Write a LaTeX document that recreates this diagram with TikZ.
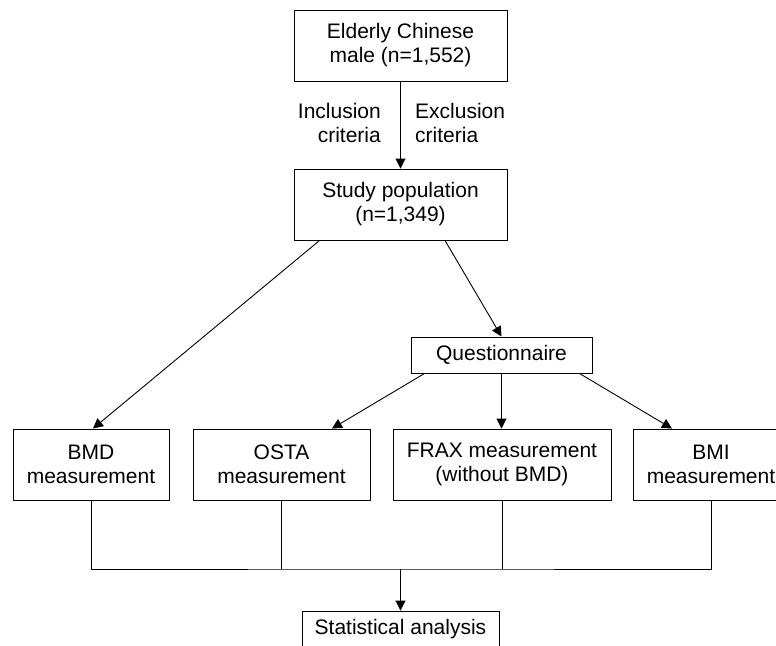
\documentclass[tikz,border=0pt]{standalone}
\usepackage{fontspec}
\setmainfont{Liberation Sans}
\usetikzlibrary{arrows.meta,calc}
\begin{document}
\begin{tikzpicture}[x=1pt,y=-1pt,
  font=\fontsize{21}{24}\selectfont,
  box/.style={draw,line width=0.9pt,inner sep=0pt,align=center},
  conn/.style={line width=0.9pt},
  arr/.style={conn,-{Triangle[length=10pt,width=10pt]}},
  lbl/.style={inner sep=0pt}]
\useasboundingbox (0,0) rectangle (776,645);
\node[box,minimum width=213,minimum height=71] (top) at (400.5,45.5) {Elderly Chinese\\male (n=1,552)};
\node[box,minimum width=213,minimum height=71] (study) at (400.5,204.5) {Study population\\(n=1,349)};
\node[box,minimum width=181,minimum height=36] (quest) at (501.5,355) {Questionnaire};
\node[box,minimum width=156,minimum height=71] (bmd) at (91,464.5) {BMD\\measurement};
\node[box,minimum width=177,minimum height=71] (osta) at (281.5,464.5) {OSTA\\measurement};
\node[box,minimum width=218,minimum height=71] (frax) at (502,464.5) {FRAX measurement\\(without BMD)};
\node[box,minimum width=156,minimum height=71] (bmi) at (711,464.5) {BMI\\measurement};
\node[box,minimum width=197,minimum height=37] (stats) at (400.5,629.5) {Statistical analysis};
\node[lbl,anchor=east,align=right] (incl) at (381,122.5) {Inclusion\\criteria};
\node[lbl,anchor=west,align=left] (excl) at (415,122.5) {Exclusion\\criteria};
\coordinate (bus) at (400.5,569);
\draw[arr] (top.south) -- (study.north);
\draw[arr] ($(study.south west)+(26,0)$) -- ($(bmd.north)+(2,0)$);
\draw[arr] ($(study.south)+(44.5,0)$) -- (quest.north);
\draw[arr] ($(quest.south west)+(14,0)$) -- ($(osta.north)+(50.5,0)$);
\draw[arr] (quest.south) -- (quest.south |- frax.north);
\draw[arr] ($(quest.south east)+(-13,0)$) -- ($(bmi.north)+(-39,0)$);
\draw[conn] (bmd.south) |- (bus) -| (bmi.south);
\draw[conn] (osta.south) -- (osta.south |- bus);
\draw[conn] (frax.south) -- (frax.south |- bus);
\draw[arr] (bus) -- (stats.north);
\end{tikzpicture}
\end{document}
